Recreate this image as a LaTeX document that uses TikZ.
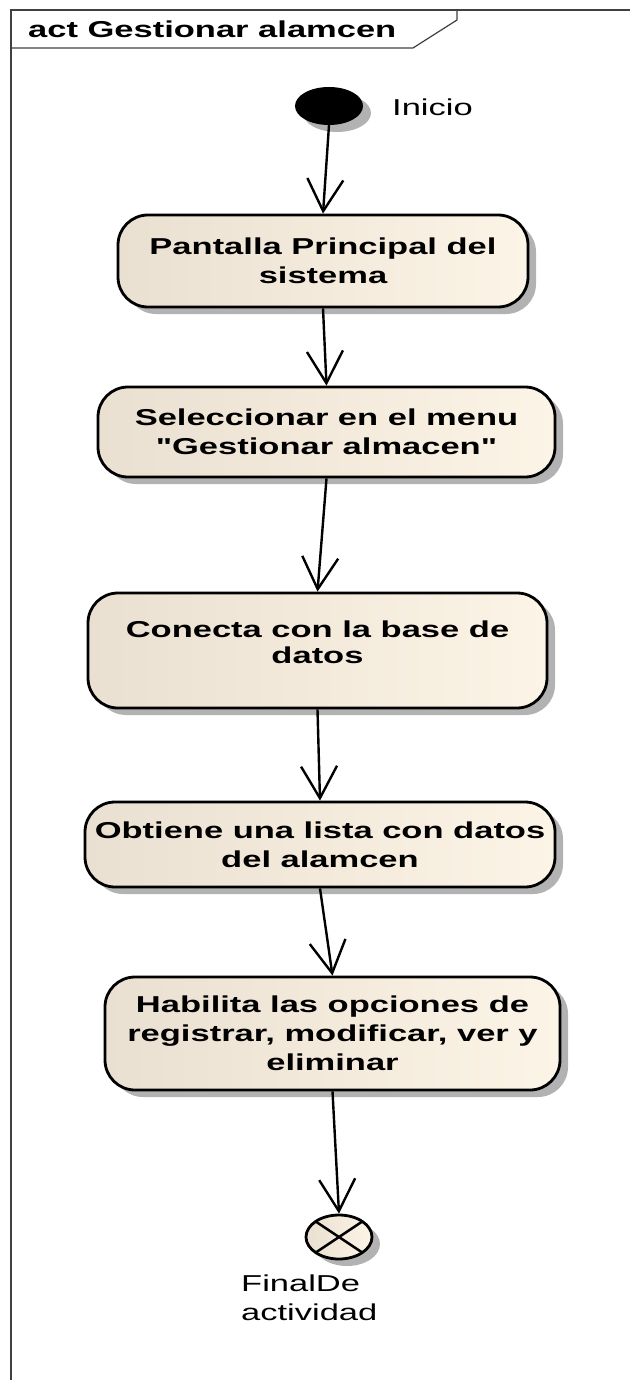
\documentclass[tikz,border=0pt]{standalone}
\usepackage{fontspec}
\setmainfont{Liberation Sans}[FakeStretch=1.5, Ligatures=TeXOff]
\usetikzlibrary{arrows.meta,shapes.geometric,shadows}
\definecolor{tanL}{RGB}{234,224,210}
\definecolor{tanR}{RGB}{252,244,230}
\newcommand{\upshift}[2]{\raisebox{#1}[\dimexpr\height-#1\relax][\dimexpr\depth+#1\relax]{#2}}
\begin{document}
\begin{tikzpicture}[x=1pt,y=-1pt,
  shd/.style={drop shadow={shadow xshift=8pt, shadow yshift=-7pt, fill=black!55, opacity=0.55}},
  act/.style={draw=black, line width=2.8pt, rounded corners=30pt, left color=tanL, right color=tanR,
    inner sep=0pt, align=center, font=\fontsize{23}{29}\selectfont\bfseries, shd},
  flow/.style={line width=2.4pt, -{Straight Barb[length=32pt,width=36pt,line width=2.4pt]}},
  lbl/.style={font=\fontsize{23}{29}\selectfont, inner sep=0pt},
  frame/.style={line width=1.6pt, black!75}
]
\useasboundingbox (0,0) rectangle (630,1380);
% frame
\draw[frame] (630,10) -- (11,10) -- (11,1380);
\draw[frame, line width=1.2pt] (11,48) -- (413,48) -- (457,20) -- (457,10);
\node[font=\fontsize{23}{27}\selectfont\bfseries, anchor=base west, inner sep=0pt] (title) at (28,38) {act Gestionar alamcen};

% start
\node[ellipse, fill=black, minimum width=68pt, minimum height=38pt, inner sep=0pt, shd] (s) at (329,106) {};
\node[lbl, anchor=west] (sl) at (392,107) {Inicio};

% actions
\node[act, minimum width=410pt, minimum height=92pt] (b1) at (323,261) {Pantalla Principal del\\sistema};
\node[act, minimum width=457pt, minimum height=90pt] (b2) at (326.5,432) {Seleccionar en el menu\\"Gestionar almacen"};
\node[act, minimum width=459pt, minimum height=115pt] (b3) at (317.5,650.5) {\upshift{3pt}{\begin{tabular}{@{}c@{}}Conecta con la base de\\[-3pt]datos\end{tabular}}};
\node[act, minimum width=470pt, minimum height=85pt] (b4) at (320,844.5) {Obtiene una lista con datos\\del alamcen};
\node[act, minimum width=455pt, minimum height=113pt] (b5) at (332.5,1033.5) {Habilita las opciones de\\registrar, modificar, ver y\\eliminar};

% final
\node[ellipse, draw=black, line width=2.8pt, left color=tanL, right color=tanR, minimum width=66pt, minimum height=44pt, inner sep=0pt, shd,
  path picture={\draw[line width=2.5pt] (path picture bounding box.north west) -- (path picture bounding box.south east)
    (path picture bounding box.south west) -- (path picture bounding box.north east);}] (f) at (339,1237) {};
\node[lbl, align=left, anchor=north west] (fl) at (241,1275) {FinalDe\\actividad};

% flows
\draw[flow] (s.south) -- (b1.north);
\draw[flow] (b1.south) -- (b2.north);
\draw[flow] (b2.south) -- (b3.north);
\draw[flow] (b3.south) -- (b4.north);
\draw[flow] (b4.south) -- (b5.north);
\draw[flow] (b5.south) -- (f.north);
\end{tikzpicture}
\end{document}
